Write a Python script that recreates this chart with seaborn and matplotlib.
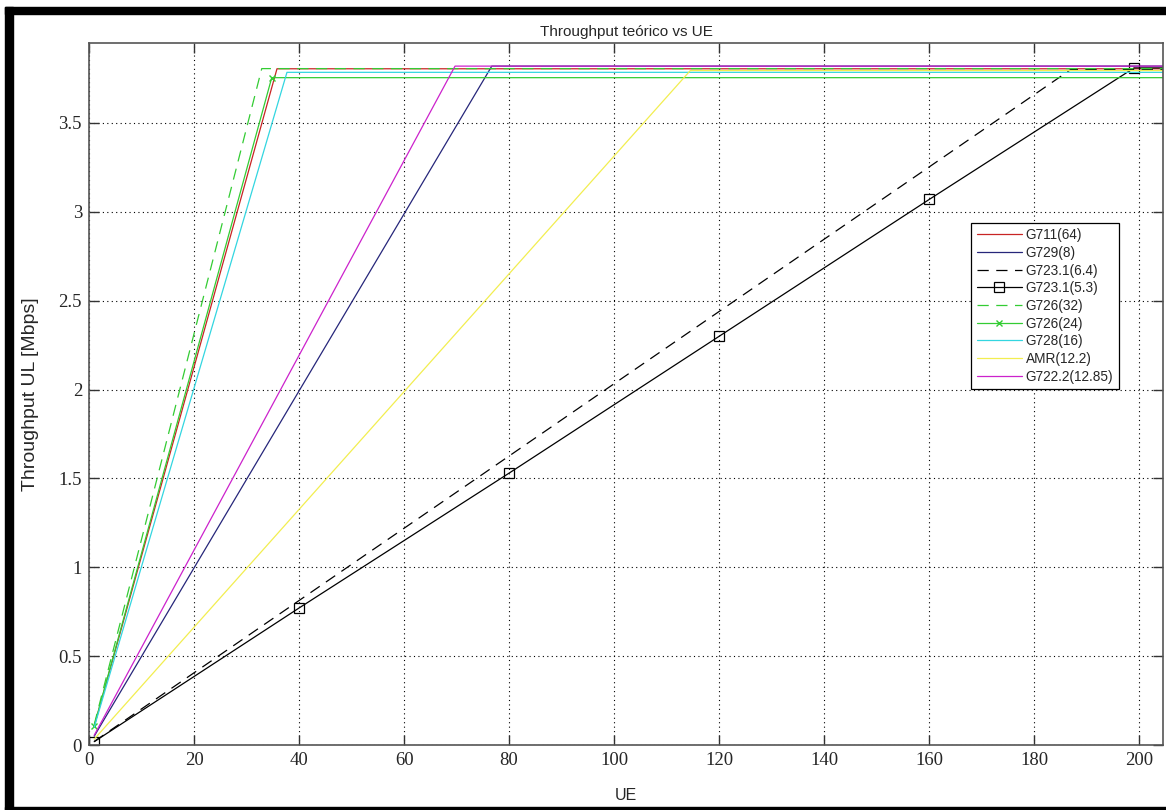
import matplotlib
matplotlib.use("Agg")
import matplotlib.pyplot as plt
from matplotlib.patches import Rectangle
import seaborn as sns

# Series: start, knee (cap reached), right edge
ue_g711 = [1, 35.8, 205]
tp_g711 = [0.106, 3.805, 3.805]

ue_g729 = [1, 76.7, 205]
tp_g729 = [0.050, 3.82, 3.82]

ue_g7231_64 = [1, 186.9, 205]
tp_g7231_64 = [0.020, 3.80, 3.80]

ue_g7231_53 = [1, 40, 80, 120, 160, 199, 205]
tp_g7231_53 = [0.019, 0.771, 1.53, 2.30, 3.07, 3.81, 3.81]

ue_g726_32 = [1, 32.9, 205]
tp_g726_32 = [0.115, 3.806, 3.806]

ue_g726_24 = [1, 34.8, 205]
tp_g726_24 = [0.107, 3.755, 3.755]

ue_g728 = [1, 37.7, 205]
tp_g728 = [0.100, 3.785, 3.785]

ue_amr = [1, 114.5, 205]
tp_amr = [0.033, 3.795, 3.795]

ue_g7222 = [1, 69.7, 205]
tp_g7222 = [0.055, 3.82, 3.82]

x_ticks = [0, 20, 40, 60, 80, 100, 120, 140, 160, 180, 200]
y_ticks = [0, 0.5, 1, 1.5, 2, 2.5, 3, 3.5]
y_tick_labels = ["0", "0.5", "1", "1.5", "2", "2.5", "3", "3.5"]

sns.set_theme(style="white")
plt.rcParams["font.family"] = ["Liberation Sans", "DejaVu Sans"]

fig = plt.figure(figsize=(11.66, 8.10), dpi=100)
ax = fig.add_axes([0.0763, 0.0802, 0.9211, 0.8667])

dash = (0, (9, 6))
lw = 0.9

series = [
    (ue_g711, tp_g711, "G711(64)", dict(color="#c82424")),
    (ue_g729, tp_g729, "G729(8)", dict(color="#26267a")),
    (ue_g7231_64, tp_g7231_64, "G723.1(6.4)", dict(color="black", linestyle=dash)),
    (ue_g7231_53, tp_g7231_53, "G723.1(5.3)",
     dict(color="black", marker="s", markersize=7, markerfacecolor="none",
          markeredgecolor="black", markeredgewidth=0.9, markevery=[0, 1, 2, 3, 4, 5])),
    (ue_g726_32, tp_g726_32, "G726(32)", dict(color="#33cc33", linestyle=dash)),
    (ue_g726_24, tp_g726_24, "G726(24)",
     dict(color="#33cc33", marker="x", markersize=5, markeredgewidth=1.0,
          markeredgecolor="#33cc33", markevery=[0, 1])),
    (ue_g728, tp_g728, "G728(16)", dict(color="#33d6e0")),
    (ue_amr, tp_amr, "AMR(12.2)", dict(color="#f2ee50")),
    (ue_g7222, tp_g7222, "G722.2(12.85)", dict(color="#cc22cc")),
]

for xs, ys, name, style in series:
    sns.lineplot(x=xs, y=ys, ax=ax, label=name, linewidth=lw, sort=False,
                 estimator=None, **style)

ax.set_xlim(0, 204.5)
ax.set_ylim(0, 3.95)
ax.set_xticks(x_ticks)
ax.set_yticks(y_ticks)
ax.set_xticklabels([str(t) for t in x_ticks], family="Liberation Serif", fontsize=13.5)
ax.set_yticklabels(y_tick_labels, family="Liberation Serif", fontsize=13.5)
ax.tick_params(direction="in", length=7, width=1, color="#333333",
               top=True, right=True, bottom=True, left=True, pad=5)
ax.grid(True, linestyle=(0, (1, 3)), color="black", linewidth=0.8)
for sp in ax.spines.values():
    sp.set_color("#555555")
    sp.set_linewidth(1.2)

ax.set_title("Throughput teórico vs UE", fontsize=11, pad=5)
ax.set_xlabel("UE", fontsize=11.5, labelpad=14)
ax.set_ylabel("Throughput UL [Mbps]", fontsize=14, labelpad=14)

leg = ax.legend(loc="upper right", bbox_to_anchor=(0.959, 0.744), fontsize=9.8,
                handlelength=3.3, handletextpad=0.3, labelspacing=0.27,
                borderpad=0.4, frameon=True, fancybox=False, framealpha=1,
                borderaxespad=0)
leg.get_frame().set_edgecolor("black")
leg.get_frame().set_linewidth(0.9)
# one marker in the middle of each legend sample
for h in leg.legend_handles:
    if h.get_marker() not in (None, "None", ""):
        h.set_markevery([1])

# black frame around the screenshot
W, H = 1166, 810
fig.patches.append(Rectangle((5 / W, 0), 8 / W, 803 / H, transform=fig.transFigure,
                             color="black", zorder=10))
fig.patches.append(Rectangle((5 / W, 796 / H), 1 - 5 / W, 7 / H, transform=fig.transFigure,
                             color="black", zorder=10))
fig.patches.append(Rectangle((5 / W, 0), 1 - 5 / W, 3 / H, transform=fig.transFigure,
                             color="black", zorder=10))

fig.savefig("out.png", dpi=100)
